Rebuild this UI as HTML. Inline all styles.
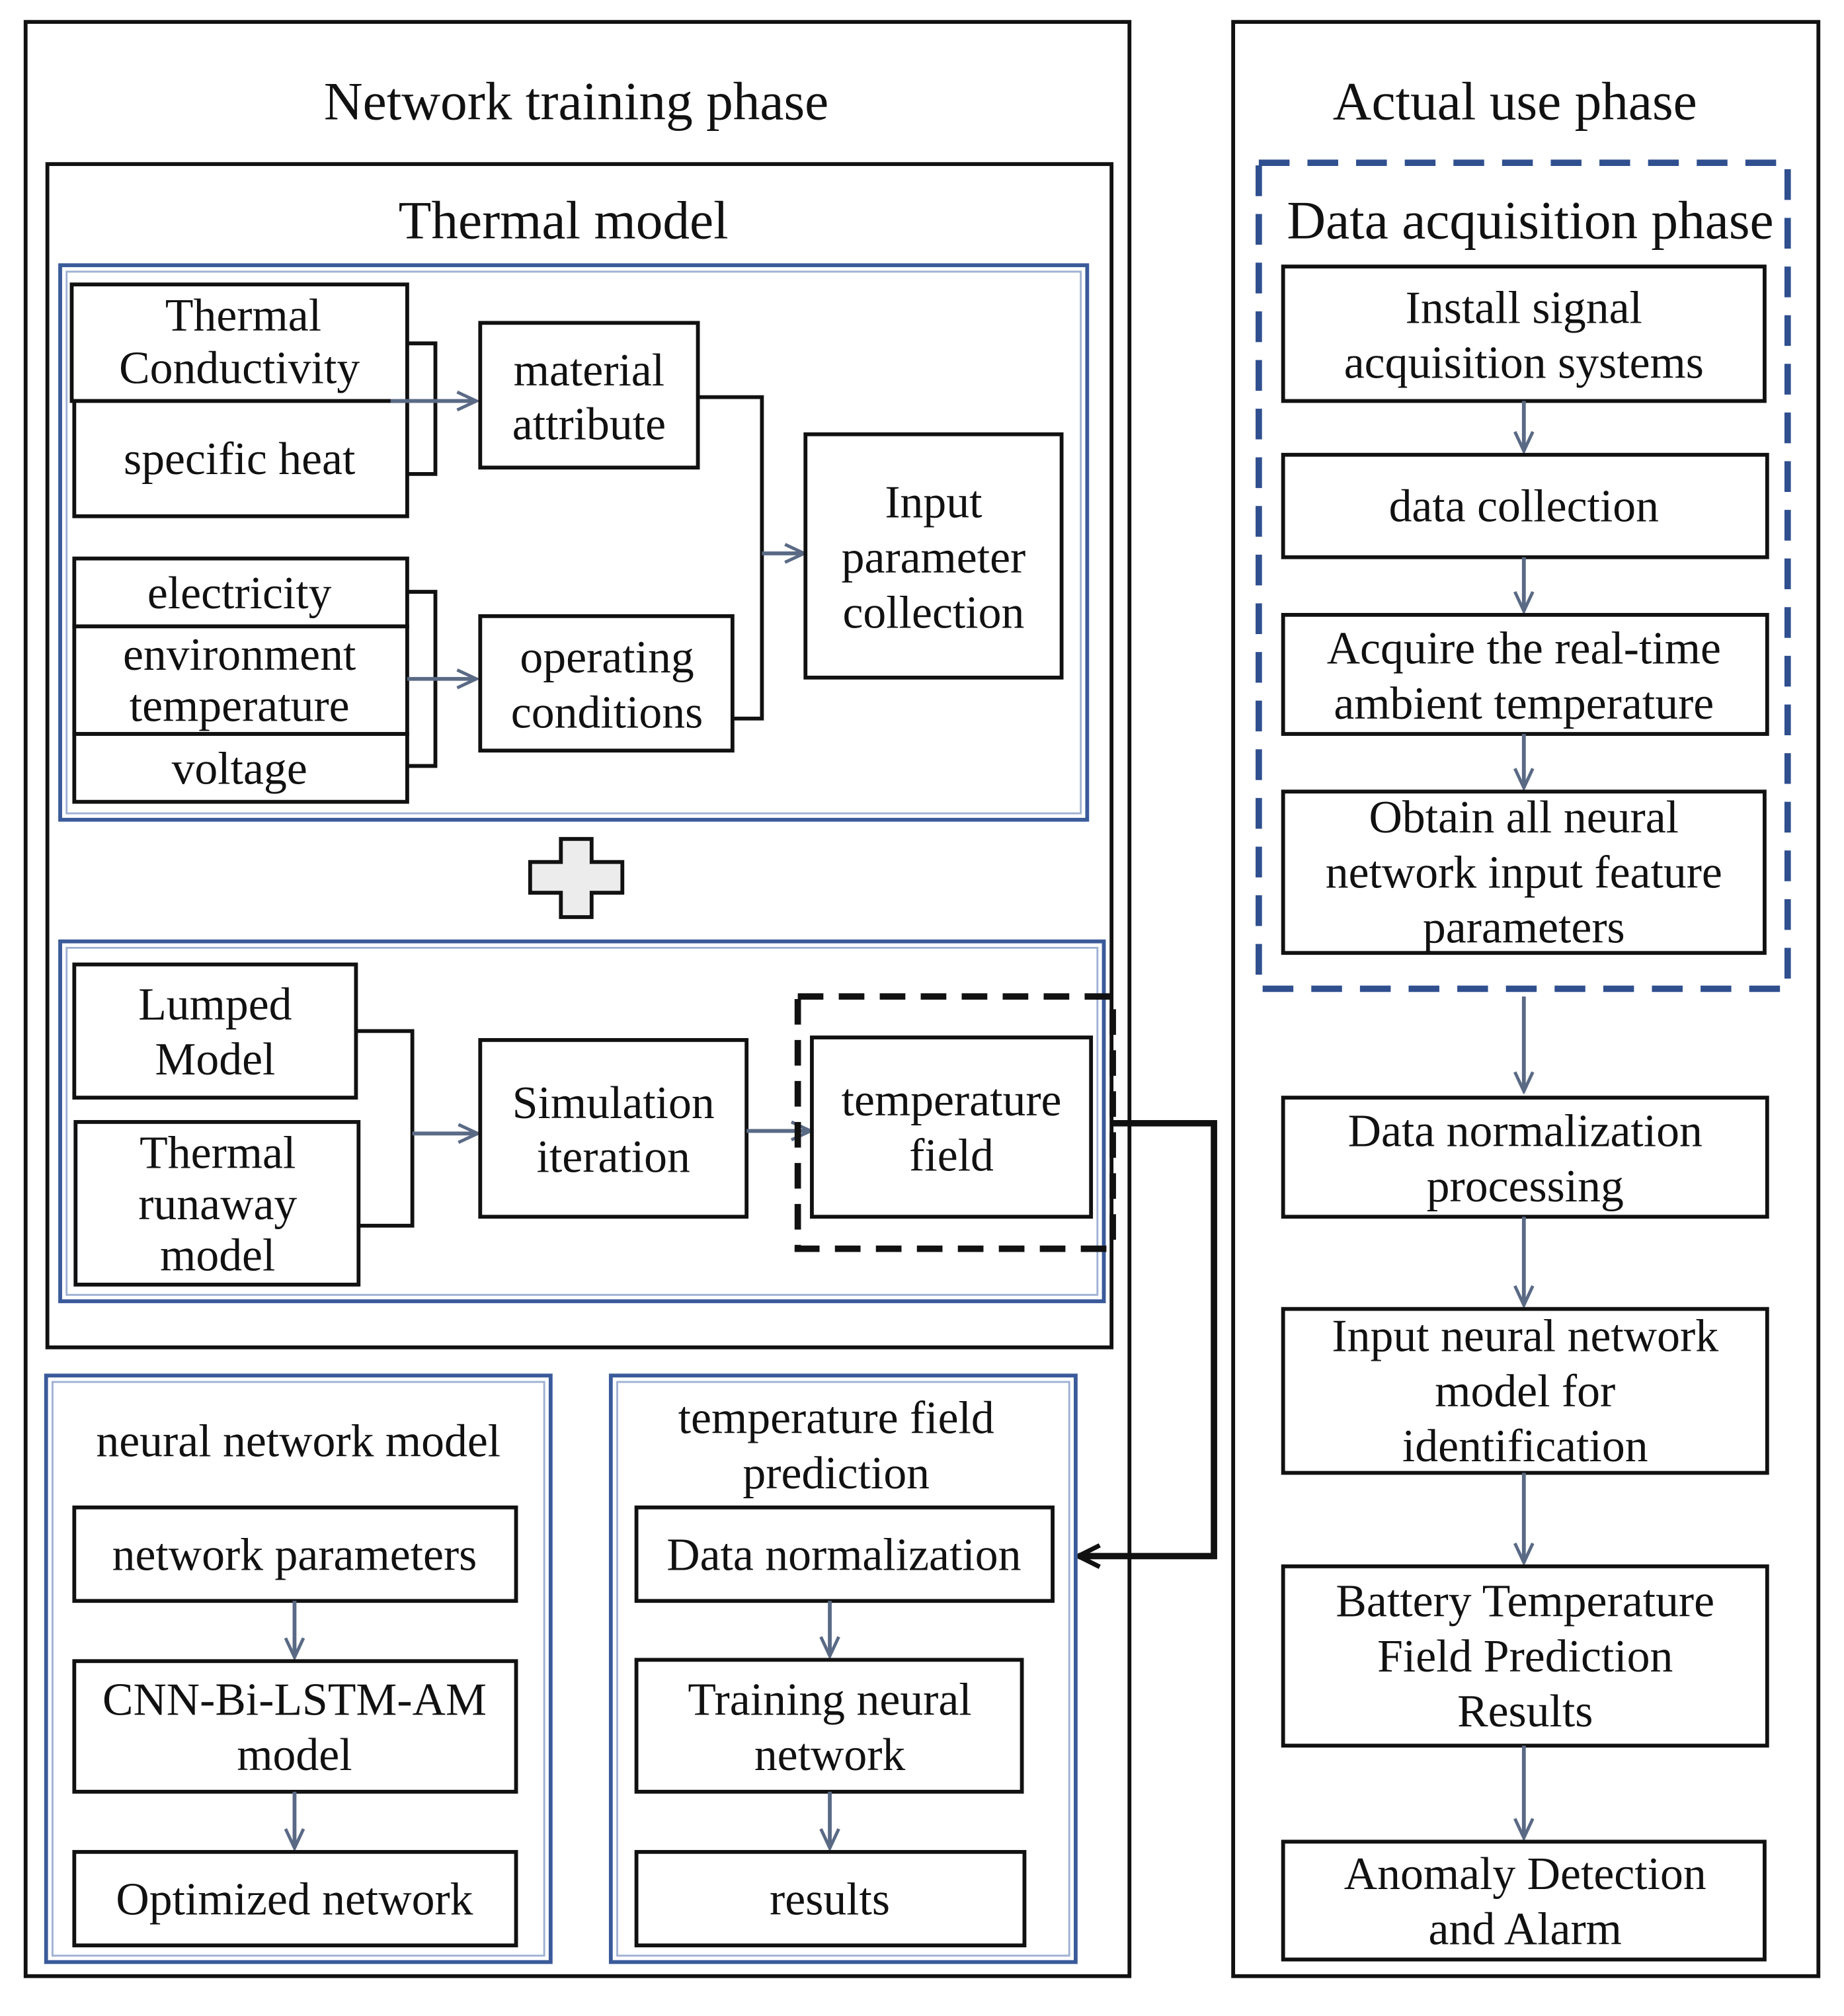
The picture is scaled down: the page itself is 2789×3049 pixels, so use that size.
<!DOCTYPE html>
<html><head><meta charset="utf-8"><style>
html,body{margin:0;padding:0;background:#fff}
svg{display:block}
text{font-family:"Liberation Serif",serif;fill:#111;text-anchor:middle}
.t{font-size:36px}
.h{font-size:42px}
.b{fill:#fff;stroke:#111;stroke-width:3}
.bo{fill:none;stroke:#3a5a9a;stroke-width:3}
.bi{fill:none;stroke:#9fb1d4;stroke-width:1.5}
.ln{fill:none;stroke:#111;stroke-width:3}
.ar{fill:none;stroke:#5a6a85;stroke-width:3}
</style></head><body>
<svg width="2789" height="3049" viewBox="0 0 1440 1574" xmlns="http://www.w3.org/2000/svg">
<defs>
<marker id="a" viewBox="0 0 20 20" refX="18" refY="10" markerWidth="20" markerHeight="20" markerUnits="userSpaceOnUse" orient="auto">
<path d="M3,3 L18,10 L3,17" fill="none" stroke="#5a6a85" stroke-width="2.5"/></marker>
<marker id="k" viewBox="0 0 20 20" refX="17" refY="10" markerWidth="24" markerHeight="24" markerUnits="userSpaceOnUse" orient="auto">
<path d="M3,3 L17,10 L3,17" fill="none" stroke="#111" stroke-width="3"/></marker>
</defs>
<rect width="1440" height="1574" fill="#fff"/>
<rect x="20" y="17" width="862" height="1526" class="ln"/>
<text x="450" y="93" class="h">Network training phase</text>
<rect x="37" y="128" width="831" height="924" class="ln"/>
<text x="440" y="186" class="h">Thermal model</text>
<rect x="47" y="207" width="802" height="433" class="bo"/>
<rect x="52" y="212" width="792" height="423" class="bi"/>
<rect x="56" y="222" width="262" height="91" class="b"/>
<text x="190" y="258" class="t">Thermal</text><text x="187" y="299" class="t">Conductivity</text>
<rect x="58" y="313" width="260" height="90" class="b"/>
<text x="187" y="370" class="t">specific heat</text>
<path d="M318,268 H340 V370 H318" class="ln"/>
<line x1="305" y1="313" x2="372" y2="313" class="ar" marker-end="url(#a)"/>
<rect x="375" y="252" width="170" height="113" class="b"/>
<text x="460" y="301" class="t">material</text><text x="460" y="343" class="t">attribute</text>
<rect x="58" y="436" width="260" height="53" class="b"/>
<text x="187" y="475" class="t">electricity</text>
<rect x="58" y="489" width="260" height="84" class="b"/>
<text x="187" y="523" class="t">environment</text><text x="187" y="563" class="t">temperature</text>
<rect x="58" y="573" width="260" height="53" class="b"/>
<text x="187" y="612" class="t">voltage</text>
<path d="M318,462 H340 V598 H318" class="ln"/>
<line x1="318" y1="530" x2="372" y2="530" class="ar" marker-end="url(#a)"/>
<rect x="375" y="481" width="197" height="105" class="b"/>
<text x="474" y="525" class="t">operating</text><text x="474" y="568" class="t">conditions</text>
<path d="M545,310 H595 V561 H572" class="ln"/>
<line x1="595" y1="432" x2="628" y2="432" class="ar" marker-end="url(#a)"/>
<rect x="629" y="339" width="200" height="190" class="b"/>
<text x="729" y="404" class="t">Input</text><text x="729" y="447" class="t">parameter</text><text x="729" y="490" class="t">collection</text>
<path d="M438,655 H462 V673 H486 V697 H462 V716 H438 V697 H414 V673 H438 Z" fill="#ececec" stroke="#111" stroke-width="3"/>
<rect x="47" y="735" width="815" height="281" class="bo"/>
<rect x="52" y="740" width="805" height="271" class="bi"/>
<rect x="58" y="753" width="220" height="104" class="b"/>
<text x="168" y="796" class="t">Lumped</text><text x="168" y="839" class="t">Model</text>
<rect x="59" y="876" width="221" height="127" class="b"/>
<text x="170" y="912" class="t">Thermal</text><text x="170" y="952" class="t">runaway</text><text x="170" y="992" class="t">model</text>
<path d="M278,805 H322 V957 H280" class="ln"/>
<line x1="322" y1="885" x2="373" y2="885" class="ar" marker-end="url(#a)"/>
<rect x="375" y="812" width="208" height="138" class="b"/>
<text x="479" y="873" class="t">Simulation</text><text x="479" y="915" class="t">iteration</text>
<line x1="583" y1="883" x2="633" y2="883" class="ar" marker-end="url(#a)"/>
<rect x="634" y="810" width="218" height="140" class="b"/>
<text x="743" y="871" class="t">temperature</text><text x="743" y="914" class="t">field</text>
<rect x="623" y="778" width="246" height="197" fill="none" stroke="#111" stroke-width="5" stroke-dasharray="20 12"/>
<path d="M868,877 H948 V1215 H842" fill="none" stroke="#111" stroke-width="5" marker-end="url(#k)"/>
<rect x="36" y="1074" width="394" height="458" class="bo"/>
<rect x="41" y="1079" width="384" height="448" class="bi"/>
<text x="233" y="1137" class="t">neural network model</text>
<rect x="58" y="1177" width="345" height="73" class="b"/>
<text x="230" y="1226" class="t">network parameters</text>
<line x1="230" y1="1250" x2="230" y2="1294" class="ar" marker-end="url(#a)"/>
<rect x="58" y="1297" width="345" height="102" class="b"/>
<text x="230" y="1339" class="t">CNN-Bi-LSTM-AM</text><text x="230" y="1382" class="t">model</text>
<line x1="230" y1="1399" x2="230" y2="1443" class="ar" marker-end="url(#a)"/>
<rect x="58" y="1446" width="345" height="73" class="b"/>
<text x="230" y="1495" class="t">Optimized network</text>
<rect x="477" y="1074" width="363" height="458" class="bo"/>
<rect x="482" y="1079" width="353" height="448" class="bi"/>
<text x="653" y="1119" class="t">temperature field</text><text x="653" y="1162" class="t">prediction</text>
<rect x="497" y="1177" width="325" height="73" class="b"/>
<text x="659" y="1226" class="t">Data normalization</text>
<line x1="648" y1="1250" x2="648" y2="1293" class="ar" marker-end="url(#a)"/>
<rect x="497" y="1296" width="301" height="103" class="b"/>
<text x="648" y="1339" class="t">Training neural</text><text x="648" y="1382" class="t">network</text>
<line x1="648" y1="1399" x2="648" y2="1443" class="ar" marker-end="url(#a)"/>
<rect x="497" y="1446" width="303" height="73" class="b"/>
<text x="648" y="1495" class="t">results</text>
<rect x="963" y="17" width="457" height="1526" class="ln"/>
<text x="1183" y="93" class="h">Actual use phase</text>
<rect x="983" y="127" width="413" height="645" fill="none" stroke="#2f4f8f" stroke-width="5" stroke-dasharray="24 14"/>
<text x="1195" y="186" class="h">Data acquisition phase</text>
<rect x="1002" y="208" width="376" height="105" class="b"/>
<text x="1190" y="252" class="t">Install signal</text><text x="1190" y="295" class="t">acquisition systems</text>
<line x1="1190" y1="313" x2="1190" y2="352" class="ar" marker-end="url(#a)"/>
<rect x="1002" y="355" width="378" height="80" class="b"/>
<text x="1190" y="407" class="t">data collection</text>
<line x1="1190" y1="435" x2="1190" y2="477" class="ar" marker-end="url(#a)"/>
<rect x="1002" y="480" width="378" height="93" class="b"/>
<text x="1190" y="518" class="t">Acquire the real-time</text><text x="1190" y="561" class="t">ambient temperature</text>
<line x1="1190" y1="573" x2="1190" y2="615" class="ar" marker-end="url(#a)"/>
<rect x="1002" y="618" width="376" height="126" class="b"/>
<text x="1190" y="650" class="t">Obtain all neural</text><text x="1190" y="693" class="t">network input feature</text><text x="1190" y="736" class="t">parameters</text>
<line x1="1190" y1="778" x2="1190" y2="852" class="ar" marker-end="url(#a)"/>
<rect x="1002" y="857" width="378" height="93" class="b"/>
<text x="1191" y="895" class="t">Data normalization</text><text x="1191" y="938" class="t">processing</text>
<line x1="1190" y1="950" x2="1190" y2="1019" class="ar" marker-end="url(#a)"/>
<rect x="1002" y="1022" width="378" height="128" class="b"/>
<text x="1191" y="1055" class="t">Input neural network</text><text x="1191" y="1098" class="t">model for</text><text x="1191" y="1141" class="t">identification</text>
<line x1="1190" y1="1150" x2="1190" y2="1220" class="ar" marker-end="url(#a)"/>
<rect x="1002" y="1223" width="378" height="140" class="b"/>
<text x="1191" y="1262" class="t">Battery Temperature</text><text x="1191" y="1305" class="t">Field Prediction</text><text x="1191" y="1348" class="t">Results</text>
<line x1="1190" y1="1363" x2="1190" y2="1435" class="ar" marker-end="url(#a)"/>
<rect x="1002" y="1438" width="376" height="92" class="b"/>
<text x="1191" y="1475" class="t">Anomaly Detection</text><text x="1191" y="1518" class="t">and Alarm</text>
</svg>
</body></html>
